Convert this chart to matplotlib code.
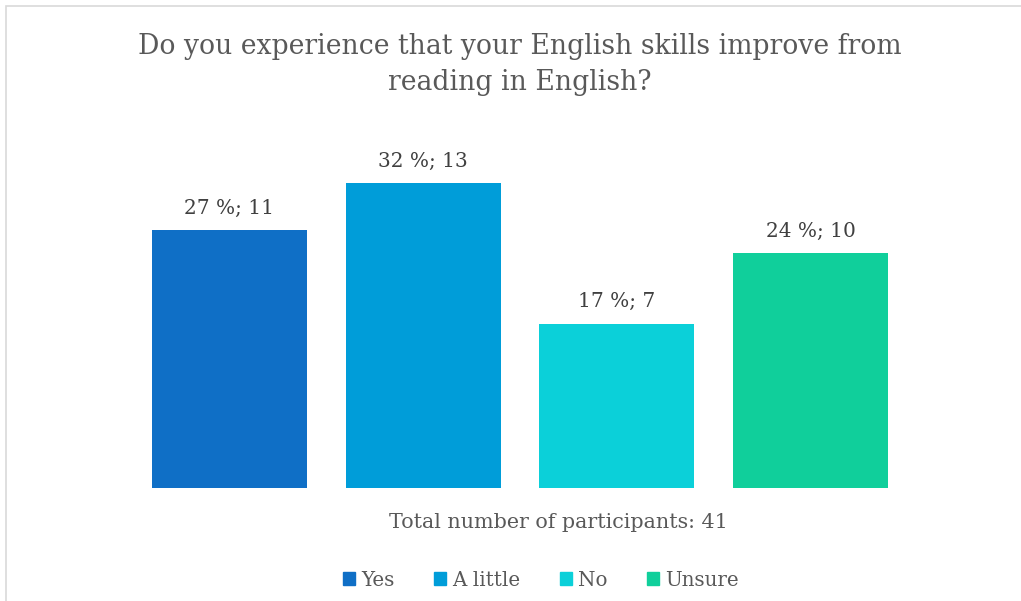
import matplotlib
matplotlib.use("Agg")
import matplotlib.pyplot as plt
from matplotlib.patches import Rectangle

# survey answers
categories = ["Yes", "A little", "No", "Unsure"]
counts = [11, 13, 7, 10]
percents = [27, 32, 17, 24]
colors = ["#0F6FC6", "#009DD9", "#0BD0D9", "#10CF9B"]
total = 41

W, H = 1021, 601
fig = plt.figure(figsize=(W / 100, H / 100), dpi=100)
plt.rcParams["font.family"] = ["DejaVu Serif"]

# chart frame (right and bottom edges fall outside the image)
fig.patches.append(Rectangle((6 / W, -0.1), 1.2, 1 - 6 / H + 0.1,
                             transform=fig.transFigure, fill=False,
                             edgecolor="#D9D9D9", linewidth=1.2))

# plot area: x from 132.6 to 907.4 px, y from 159.6 to 488 px
left, right = 132.6, 907.4
top, bottom = 159.6, 488
ax = fig.add_axes([left / W, 1 - bottom / H, (right - left) / W, (bottom - top) / H])
x = range(len(categories))
bars = ax.bar(x, counts, width=0.8, color=colors)
ax.set_xlim(-0.5, 3.5)
ax.set_ylim(0, 14)
ax.axis("off")

for i, (c, p) in enumerate(zip(counts, percents)):
    ax.annotate(f"{p} %; {c}", (i, c), xytext=(0, 22), textcoords="offset pixels",
                ha="center", va="center", fontsize=14.5, color="#404040")

fig.text(520 / W, 1 - 47 / H, "Do you experience that your English skills improve from",
         ha="center", va="center", fontsize=19.2, color="#595959")
fig.text(520 / W, 1 - 83 / H, "reading in English?",
         ha="center", va="center", fontsize=19.2, color="#595959")

fig.text(558 / W, 1 - 523 / H, f"Total number of participants: {total}",
         ha="center", va="center", fontsize=14.9, color="#595959")

handles = [Rectangle((0, 0), 1, 1, color=col) for col in colors]
fig.legend(handles, categories, loc="center", bbox_to_anchor=(541 / W, 1 - 580 / H),
           ncol=4, frameon=False, fontsize=14.3, handlelength=0.6, handleheight=0.6,
           handletextpad=0.3, columnspacing=2.0, labelcolor="#595959")

fig.savefig("out.png", dpi=100)
